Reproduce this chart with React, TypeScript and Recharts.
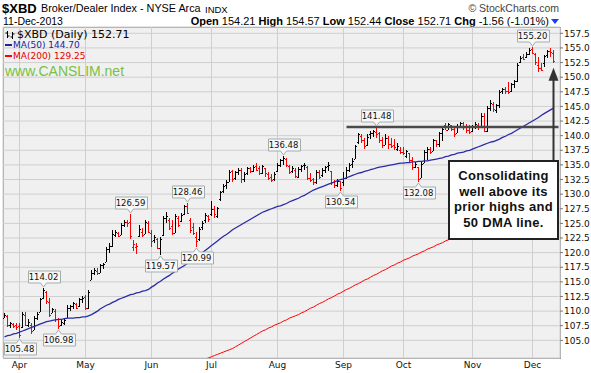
import React from 'react';
import { ComposedChart, Bar, Line, XAxis, YAxis, CartesianGrid, ReferenceDot, ReferenceLine } from 'recharts';

const ARIAL = '"Liberation Sans", Arial, sans-serif';
const VERDANA = '"DejaVu Sans", Verdana, sans-serif';

type Ohlc = [number, number, number, number];

// trading days per month (2013)
const marDays = [22, 25, 26, 27, 28];
const aprDays = [1, 2, 3, 4, 5, 8, 9, 10, 11, 12, 15, 16, 17, 18, 19, 22, 23, 24, 25, 26, 29, 30];
const mayDays = [1, 2, 3, 6, 7, 8, 9, 10, 13, 14, 15, 16, 17, 20, 21, 22, 23, 24, 28, 29, 30, 31];
const junDays = [3, 4, 5, 6, 7, 10, 11, 12, 13, 14, 17, 18, 19, 20, 21, 24, 25, 26, 27, 28];
const julDays = [1, 2, 3, 5, 8, 9, 10, 11, 12, 15, 16, 17, 18, 19, 22, 23, 24, 25, 26, 29, 30, 31];
const augDays = [1, 2, 5, 6, 7, 8, 9, 12, 13, 14, 15, 16, 19, 20, 21, 22, 23, 26, 27, 28, 29, 30];
const sepDays = [3, 4, 5, 6, 9, 10, 11, 12, 13, 16, 17, 18, 19, 20, 23, 24, 25, 26, 27, 30];
const octDays = [1, 2, 3, 4, 7, 8, 9, 10, 11, 14, 15, 16, 17, 18, 21, 22, 23, 24, 25, 28, 29, 30, 31];
const novDays = [1, 4, 5, 6, 7, 8, 11, 12, 13, 14, 15, 18, 19, 20, 21, 22, 25, 26, 27, 29];
const decDays = [2, 3, 4, 5, 6, 9, 10, 11];

// [open, high, low, close]
const marBars: Ohlc[] = [
  [108.9, 109.6, 108.8, 109.4], [109.2, 109.3, 107.2, 107.6], [107.6, 108.1, 107.1, 107.9], [107.8, 108.0, 107.1, 107.5],
  [107.6, 108.0, 106.8, 107.2],
];
const aprBars: Ohlc[] = [
  [107.4, 108.0, 105.48, 105.9], [107.3, 109.8, 107.1, 109.5], [109.4, 109.8, 107.4, 107.6], [107.6, 108.6, 107.3, 108.2],
  [107.6, 108.0, 106.0, 106.6], [106.8, 109.2, 106.8, 108.9], [108.9, 109.8, 108.4, 109.5], [109.8, 112.3, 109.8, 112.0],
  [112.2, 114.02, 112.0, 113.6], [113.2, 113.4, 111.2, 111.8], [111.6, 112.3, 109.0, 109.3], [109.6, 110.6, 109.6, 110.4],
  [110.0, 110.4, 108.2, 108.6], [108.6, 108.8, 106.98, 107.4], [107.6, 108.4, 107.4, 108.2], [108.0, 108.6, 107.6, 108.4],
  [108.8, 111.0, 108.8, 110.6], [110.6, 111.0, 110.0, 110.8], [110.8, 111.6, 110.4, 111.3], [111.2, 111.3, 110.3, 110.6],
  [110.8, 112.2, 110.7, 112.0], [112.0, 112.6, 111.4, 112.3],
];
const mayBars: Ohlc[] = [
  [112.4, 112.7, 110.2, 110.5], [110.6, 113.6, 110.4, 113.3], [115.4, 117.0, 115.3, 116.6], [116.5, 117.4, 116.2, 117.0],
  [116.9, 117.3, 116.2, 116.5], [116.6, 118.0, 116.6, 117.8], [117.8, 118.3, 117.2, 118.0], [118.4, 121.0, 118.4, 120.6],
  [120.6, 121.6, 120.0, 121.2], [121.2, 123.9, 121.0, 123.2], [123.0, 123.8, 122.7, 123.6], [123.4, 123.5, 122.6, 122.9],
  [123.0, 125.0, 123.0, 124.8], [124.8, 125.6, 124.4, 125.3], [125.3, 125.5, 124.4, 125.0], [125.2, 126.59, 122.4, 122.8],
  [121.0, 122.2, 120.2, 121.5], [121.0, 121.6, 119.8, 121.2], [122.8, 124.8, 122.6, 124.0], [123.6, 124.2, 122.6, 123.0],
  [123.2, 125.6, 123.2, 125.2], [125.0, 125.4, 123.4, 123.6],
];
const junBars: Ohlc[] = [
  [123.4, 123.9, 120.9, 122.0], [122.2, 123.0, 121.6, 122.6], [122.4, 122.5, 120.6, 120.8], [120.8, 122.6, 119.57, 122.3],
  [123.0, 126.2, 122.8, 126.0], [126.0, 126.9, 125.0, 126.2], [125.6, 125.9, 123.8, 124.2], [124.6, 125.6, 123.0, 123.4],
  [123.4, 126.6, 123.3, 126.3], [126.0, 126.2, 124.4, 124.8], [125.4, 126.8, 125.2, 126.5], [126.6, 128.2, 126.4, 128.0],
  [128.0, 128.46, 126.6, 126.8], [125.6, 125.9, 123.4, 123.8], [124.4, 125.0, 123.0, 123.4], [122.6, 123.6, 120.99, 122.0],
  [122.4, 124.4, 122.0, 124.0], [124.4, 125.4, 123.8, 125.1], [125.6, 126.8, 125.0, 126.4], [126.2, 126.4, 125.3, 125.7],
];
const julBars: Ohlc[] = [
  [126.6, 128.9, 126.2, 127.4], [127.4, 128.0, 126.0, 126.6], [126.2, 127.8, 126.0, 127.6], [129.2, 130.6, 128.8, 130.3],
  [130.6, 131.8, 130.2, 131.4], [131.6, 132.4, 130.8, 132.0], [132.0, 134.2, 132.0, 133.8], [134.0, 134.2, 132.0, 132.6],
  [132.8, 134.0, 132.4, 133.8], [133.8, 134.4, 133.2, 134.2], [134.2, 134.4, 131.9, 132.6], [132.6, 133.8, 132.0, 133.4],
  [133.6, 134.6, 133.2, 134.4], [134.4, 134.6, 133.6, 134.0], [134.0, 135.0, 133.8, 134.7], [134.8, 135.3, 134.0, 134.2],
  [134.4, 134.8, 133.2, 133.6], [133.6, 135.0, 133.5, 134.8], [134.4, 134.5, 132.9, 133.6], [133.4, 133.8, 132.4, 132.8],
  [133.0, 133.4, 132.0, 132.5], [132.6, 133.8, 132.2, 133.4],
];
const augBars: Ohlc[] = [
  [134.0, 135.3, 133.8, 135.0], [135.0, 136.0, 134.6, 135.8], [135.8, 136.48, 135.0, 136.2], [136.0, 136.2, 134.6, 135.0],
  [134.8, 135.0, 133.4, 133.8], [134.0, 134.8, 133.6, 134.4], [134.2, 134.4, 132.7, 133.1], [133.0, 134.6, 132.8, 134.3],
  [134.3, 135.0, 133.8, 134.8], [134.9, 135.4, 134.2, 135.0], [134.6, 134.8, 132.4, 132.8], [132.8, 133.6, 132.0, 132.4],
  [132.6, 132.8, 131.6, 132.0], [132.0, 134.2, 131.8, 133.8], [133.8, 134.2, 132.6, 133.0], [133.2, 134.4, 133.0, 134.2],
  [134.2, 134.8, 133.6, 134.6], [134.8, 135.5, 134.0, 134.9], [134.0, 134.0, 131.6, 132.0], [132.0, 132.4, 131.0, 131.5],
  [131.6, 132.6, 131.2, 132.2], [132.2, 132.3, 130.54, 131.0],
];
const sepBars: Ohlc[] = [
  [132.0, 133.8, 131.4, 132.8], [132.8, 134.6, 132.6, 134.2], [134.2, 135.4, 133.8, 135.0], [135.2, 136.2, 134.4, 135.6],
  [136.0, 138.4, 136.0, 138.2], [139.0, 140.4, 138.6, 140.2], [140.0, 140.3, 138.7, 139.2], [139.2, 139.6, 137.8, 138.2],
  [138.4, 140.2, 138.2, 139.8], [140.2, 140.8, 139.4, 140.4], [140.4, 141.0, 139.8, 140.8], [140.6, 141.48, 139.6, 140.2],
  [140.4, 140.6, 138.8, 139.2], [139.2, 139.8, 137.9, 138.4], [138.4, 140.2, 138.4, 139.6], [139.6, 140.0, 137.8, 138.6],
  [138.6, 139.6, 137.9, 138.3], [138.4, 139.4, 137.6, 138.0], [137.8, 138.7, 137.4, 138.2], [137.6, 138.0, 136.8, 137.2],
];
const octBars: Ohlc[] = [
  [137.2, 138.1, 136.7, 137.0], [136.6, 137.5, 136.1, 137.3], [137.0, 137.1, 135.3, 135.8], [135.8, 136.3, 134.2, 134.6],
  [134.6, 135.5, 134.4, 135.2], [134.6, 134.6, 132.08, 132.6], [132.8, 135.5, 132.7, 135.2], [135.4, 137.5, 135.3, 137.2],
  [137.2, 138.1, 135.9, 137.8], [137.8, 138.1, 136.8, 137.2], [137.4, 139.5, 137.4, 139.2], [139.2, 139.2, 138.0, 138.6],
  [138.6, 140.6, 138.0, 140.4], [140.4, 141.4, 139.1, 141.2], [141.8, 142.1, 140.9, 141.0], [141.0, 142.2, 140.9, 142.0],
  [141.8, 141.9, 140.8, 141.2], [141.2, 141.5, 139.8, 140.2], [140.4, 142.0, 140.4, 141.6], [141.6, 142.4, 141.5, 142.2],
  [142.2, 142.3, 141.0, 141.5], [141.4, 142.0, 140.4, 141.0], [141.0, 141.8, 140.2, 140.6],
];
const novBars: Ohlc[] = [
  [140.8, 141.8, 140.6, 141.4], [141.4, 142.3, 141.2, 142.0], [141.8, 142.1, 141.0, 141.5], [141.6, 143.8, 141.6, 143.4],
  [143.4, 143.8, 140.6, 140.8], [140.8, 145.0, 140.6, 144.8], [144.8, 146.1, 144.2, 145.6], [145.4, 145.7, 144.0, 144.6],
  [144.4, 145.4, 143.8, 145.2], [145.2, 147.8, 144.8, 147.5], [147.6, 148.2, 147.2, 148.0], [148.0, 148.4, 147.2, 147.6],
  [147.6, 149.2, 147.2, 147.4], [147.6, 149.0, 147.4, 148.8], [148.8, 149.6, 148.2, 149.4], [149.4, 152.4, 149.2, 152.0],
  [152.6, 153.6, 152.4, 153.2], [153.4, 154.0, 153.0, 153.1], [153.4, 154.3, 153.3, 154.0], [154.0, 155.0, 153.8, 154.6],
];
const decBars: Ohlc[] = [
  [154.8, 155.2, 154.0, 154.2], [154.0, 154.2, 152.0, 152.6], [152.0, 153.4, 150.9, 151.5], [151.6, 152.4, 151.1, 151.3],
  [152.4, 153.8, 151.8, 153.6], [153.8, 154.6, 153.2, 154.4], [154.4, 155.0, 153.4, 154.27], [154.21, 154.57, 152.44, 152.71],
];

// 50-day moving average
const ma50Mar = [105.6, 105.8, 105.9, 106.1, 106.2];
const ma50Apr = [106.4, 106.6, 106.8, 107.0, 107.2, 107.4, 107.6, 107.8, 108.0, 108.2, 108.3, 108.4, 108.5, 108.6, 108.6, 108.7, 108.8, 108.8, 108.8, 108.9, 108.9, 109.0];
const ma50May = [109.0, 109.2, 109.4, 109.7, 110.0, 110.4, 110.7, 111.0, 111.2, 111.5, 111.7, 112.0, 112.2, 112.4, 112.6, 112.8, 112.9, 113.1, 113.2, 113.4, 113.5, 113.7];
const ma50Jun = [114.1, 114.4, 114.8, 115.1, 115.5, 115.8, 116.1, 116.5, 116.8, 117.2, 117.5, 117.8, 118.2, 118.5, 118.9, 119.2, 119.6, 120.0, 120.4, 120.8];
const ma50Jul = [121.2, 121.6, 122.0, 122.4, 122.8, 123.1, 123.5, 123.9, 124.2, 124.5, 124.8, 125.1, 125.4, 125.7, 126.0, 126.3, 126.6, 126.9, 127.1, 127.3, 127.5, 127.7];
const ma50Aug = [127.9, 128.0, 128.2, 128.4, 128.7, 128.9, 129.1, 129.3, 129.6, 129.8, 130.1, 130.4, 130.7, 130.9, 131.1, 131.3, 131.5, 131.7, 131.9, 132.1, 132.3, 132.5];
const ma50Sep = [132.6, 132.8, 133.0, 133.2, 133.4, 133.6, 133.7, 133.9, 134.0, 134.2, 134.3, 134.5, 134.6, 134.7, 134.8, 134.9, 135.0, 135.1, 135.2, 135.3];
const ma50Oct = [135.3, 135.4, 135.4, 135.5, 135.5, 135.6, 135.6, 135.7, 135.7, 135.8, 135.9, 136.0, 136.1, 136.2, 136.4, 136.5, 136.7, 136.8, 137.0, 137.1, 137.2, 137.4, 137.5];
const ma50Nov = [137.7, 137.9, 138.1, 138.3, 138.5, 138.7, 138.9, 139.0, 139.2, 139.4, 139.7, 139.9, 140.2, 140.4, 140.7, 141.0, 141.3, 141.6, 141.9, 142.2];
const ma50Dec = [142.5, 142.8, 143.1, 143.5, 143.8, 144.1, 144.4, 144.7];

// 200-day moving average (below the chart before June)
const ma200Jun = [97.9, 98.1, 98.3, 98.5, 98.7, 98.9, 99.2, 99.4, 99.6, 99.8, 100.0, 100.2, 100.4, 100.7, 100.9, 101.1, 101.3, 101.5, 101.8, 102.0];
const ma200Jul = [102.2, 102.4, 102.6, 102.8, 103.0, 103.2, 103.4, 103.6, 103.9, 104.2, 104.5, 104.8, 105.1, 105.4, 105.7, 106.0, 106.3, 106.6, 106.8, 107.1, 107.3, 107.6];
const ma200Aug = [107.8, 108.0, 108.3, 108.5, 108.8, 109.0, 109.2, 109.4, 109.7, 109.9, 110.2, 110.5, 110.7, 111.0, 111.3, 111.5, 111.8, 112.1, 112.3, 112.6, 112.9, 113.1];
const ma200Sep = [113.4, 113.7, 113.9, 114.2, 114.5, 114.7, 115.0, 115.3, 115.5, 115.8, 116.1, 116.3, 116.6, 116.9, 117.1, 117.4, 117.7, 117.9, 118.2, 118.4];
const ma200Oct = [118.7, 118.9, 119.1, 119.4, 119.6, 119.8, 120.1, 120.3, 120.6, 120.8, 121.0, 121.3, 121.5, 121.7, 122.0, 122.2, 122.5, 122.7, 122.9, 123.1, 123.4, 123.6, 123.8];
const ma200Nov = [124.0, 124.2, 124.4, 124.6, 124.8, 125.0, 125.2, 125.4, 125.6, 125.8, 126.0, 126.2, 126.4, 126.6, 126.8, 127.0, 127.2, 127.4, 127.6, 127.8];
const ma200Dec = [128.0, 128.2, 128.4, 128.6, 128.7, 128.9, 129.1, 129.25];

const yTicks = [105, 107.5, 110, 112.5, 115, 117.5, 120, 122.5, 125, 127.5, 130, 132.5, 135, 137.5, 140, 142.5, 145, 147.5, 150, 152.5, 155, 157.5];
const monthStarts = ['2013-04-01', '2013-05-01', '2013-06-03', '2013-07-01', '2013-08-01', '2013-09-03', '2013-10-01', '2013-11-01', '2013-12-02'];
const monthLabels = ['Apr', 'May', 'Jun', 'Jul', 'Aug', 'Sep', 'Oct', 'Nov', 'Dec'];

const callouts = [
  { date: '2013-04-01', value: 105.48, below: true },
  { date: '2013-04-11', value: 114.02, below: false },
  { date: '2013-04-18', value: 106.98, below: true },
  { date: '2013-05-22', value: 126.59, below: false },
  { date: '2013-06-06', value: 119.57, below: true },
  { date: '2013-06-19', value: 128.46, below: false },
  { date: '2013-06-24', value: 120.99, below: true },
  { date: '2013-08-05', value: 136.48, below: false },
  { date: '2013-08-30', value: 130.54, below: true },
  { date: '2013-09-18', value: 141.48, below: false },
  { date: '2013-10-08', value: 132.08, below: true },
  { date: '2013-12-02', value: 155.2, below: false },
];

const monthDays: [string, number[]][] = [
  ['03', marDays], ['04', aprDays], ['05', mayDays], ['06', junDays], ['07', julDays],
  ['08', augDays], ['09', sepDays], ['10', octDays], ['11', novDays], ['12', decDays],
];
const dates = monthDays.flatMap(([m, days]) => days.map(d => `2013-${m}-${String(d).padStart(2, '0')}`));
const bars = [...marBars, ...aprBars, ...mayBars, ...junBars, ...julBars, ...augBars, ...sepBars, ...octBars, ...novBars, ...decBars];
const ma50 = [...ma50Mar, ...ma50Apr, ...ma50May, ...ma50Jun, ...ma50Jul, ...ma50Aug, ...ma50Sep, ...ma50Oct, ...ma50Nov, ...ma50Dec];
const ma200 = [...ma200Jun, ...ma200Jul, ...ma200Aug, ...ma200Sep, ...ma200Oct, ...ma200Nov, ...ma200Dec];
const ma200Start = dates.length - ma200.length;

const data = dates.map((date, i) => {
  const [open, high, low, close] = bars[i];
  const prev = i > 0 ? bars[i - 1][3] : open;
  return {
    date,
    range: [low, high],
    open,
    close,
    up: close >= prev,
    ma50: ma50[i],
    ma200: i >= ma200Start ? ma200[i - ma200Start] : null,
  };
});

const OhlcBar = (props: any) => {
  const { x, y, width, height, payload } = props;
  const top = Math.min(y, y + height);
  const bot = Math.max(y, y + height);
  const [low, high] = payload.range;
  const k = high > low ? (bot - top) / (high - low) : 0;
  const yOf = (v: number) => Math.round(top + (high - v) * k);
  const cx = Math.floor(x + width / 2);
  const t = Math.round(top);
  return (
    <g fill={payload.up ? '#000000' : '#ff0000'}>
      <rect x={cx} y={t} width={1} height={Math.max(1, Math.round(bot) - t)} />
      <rect x={cx - 1} y={yOf(payload.open)} width={1} height={1} />
      <rect x={cx + 1} y={yOf(payload.close)} width={1} height={1} />
    </g>
  );
};

const Callout = ({ cx, cy, text, below }: any) => {
  const w = 32, h = 12, p = 4;
  const l = Math.round(cx - w / 2) + 0.5;
  const r = l + w;
  const tip = below ? Math.round(cy) + 1 : Math.round(cy) - 1;
  let d: string;
  let ty: number;
  if (below) {
    const t = tip + p;
    d = `M${l},${t} H${cx - 3} L${cx},${tip} L${cx + 3},${t} H${r} V${t + h} H${l} Z`;
    ty = t + h / 2;
  } else {
    const b = tip - p;
    d = `M${l},${b - h} H${r} V${b} H${cx + 3} L${cx},${tip} L${cx - 3},${b} H${l} Z`;
    ty = b - h / 2;
  }
  return (
    <g>
      <path d={d} fill="#f7f7f7" stroke="#a3adad" strokeWidth={1} />
      <text x={cx} y={ty} textAnchor="middle" dominantBaseline="central" fontFamily={VERDANA} fontSize={8.5} fill="#111">
        {text}
      </text>
    </g>
  );
};

const abs = (left: number, top: number, extra: React.CSSProperties = {}): React.CSSProperties => ({
  position: 'absolute', left, top, lineHeight: 1, whiteSpace: 'nowrap', ...extra,
});

const App = () => {
  return (
    <div style={{ position: 'absolute', left: 0, top: 0, width: 591, height: 373, background: '#fff', overflow: 'hidden' }}>
      {/* plot background and frame */}
      <div style={{ position: 'absolute', left: 3, top: 27, width: 558, height: 332, boxSizing: 'border-box', background: '#f0f0f0', border: '1px solid #9a9a9a' }} />

      <span style={abs(2, 1.5, { fontFamily: ARIAL, fontSize: 13, fontWeight: 'bold' })}>$XBD</span>
      <span style={abs(41, 3.3, { fontFamily: ARIAL, fontSize: 10.8 })}>Broker/Dealer Index - NYSE Arca</span>
      <span style={abs(205, 4.5, { fontFamily: ARIAL, fontSize: 9.5 })}>INDX</span>
      <span style={abs(0, 2.6, { fontFamily: ARIAL, fontSize: 10.5, color: '#444', left: undefined, right: 32 })}>© StockCharts.com</span>
      <span style={abs(3, 16, { fontFamily: ARIAL, fontSize: 10.5 })}>11-Dec-2013</span>
      <span style={abs(0, 15.7, { fontFamily: ARIAL, fontSize: 11, left: undefined, right: 42 })}>
        <b>Open</b> 154.21 <b>High</b> 154.57 <b>Low</b> 152.44 <b>Close</b> 152.71 <b>Chg</b> -1.56 (-1.01%)
      </span>
      <svg style={{ position: 'absolute', left: 551, top: 19 }} width={8} height={6}>
        <path d="M0,0 H8 L4,5 Z" fill="#1a3cff" />
      </svg>

      <ComposedChart width={591} height={373} data={data} margin={{ top: 27, right: 0, left: 3, bottom: 0 }} style={{ position: 'absolute', left: 0, top: 0 }}>
        <CartesianGrid stroke="#cfcfcf" strokeWidth={1} />
        <XAxis
          dataKey="date"
          ticks={monthStarts}
          interval={0}
          tickFormatter={(v: string) => monthLabels[monthStarts.indexOf(v)] ?? ''}
          height={15}
          padding={{ left: 0, right: 5 }}
          axisLine={false}
          tickLine={false}
          tickSize={3}
          tickMargin={1}
          tick={{ fontSize: 9, fontFamily: VERDANA, fill: '#111' }}
        />
        <YAxis
          orientation="right"
          width={31}
          domain={[101.98, 158.58]}
          allowDataOverflow
          ticks={yTicks}
          interval={0}
          tickFormatter={(v: number) => v.toFixed(1)}
          axisLine={false}
          tickLine={{ stroke: '#777' }}
          tickSize={3}
          tickMargin={1}
          tick={{ fontSize: 9, fontFamily: VERDANA, fill: '#111' }}
        />
        <Line dataKey="ma200" stroke="#ff0000" strokeWidth={1} dot={false} isAnimationActive={false} connectNulls={false} />
        <Line dataKey="ma50" stroke="#2b2ba6" strokeWidth={1.3} dot={false} isAnimationActive={false} />
        <Bar dataKey="range" shape={(p: any) => <OhlcBar {...p} />} isAnimationActive={false} />
        <ReferenceLine
          segment={[{ x: dates[114], y: 141.48 }, { x: dates[dates.length - 1], y: 141.48 }]}
          shape={(p: any) => <line x1={p.x1} y1={p.y1} x2={Math.max(p.x1, p.x2) + 5} y2={p.y2} stroke="#4a4a4a" strokeWidth={2.5} />}
        />
        <ReferenceLine
          segment={[{ x: dates[dates.length - 1], y: 135.8 }, { x: dates[dates.length - 1], y: 151.6 }]}
          shape={(p: any) => {
            const top = Math.min(p.y1, p.y2);
            const bot = Math.max(p.y1, p.y2);
            const x = p.x1;
            return (
              <g>
                <line x1={x} y1={top + 10} x2={x} y2={bot} stroke="#333" strokeWidth={2} />
                <path d={`M${x},${top} L${x + 5},${top + 13} L${x - 5},${top + 13} Z`} fill="#333" />
              </g>
            );
          }}
        />
        {callouts.map(c => (
          <ReferenceDot
            key={c.date}
            x={c.date}
            y={c.value}
            r={1}
            shape={(p: any) => <Callout cx={p.cx} cy={p.cy} text={c.value.toFixed(2)} below={c.below} />}
          />
        ))}
      </ComposedChart>

      {/* legend */}
      <svg style={{ position: 'absolute', left: 5, top: 30 }} width={10} height={10}>
        <path d="M2.5,1 V8 M0.5,3 H2.5 M2.5,6 H4.5 M7.5,2 V9 M5.5,7 H7.5 M7.5,4 H9.5" stroke="#000" strokeWidth={1} fill="none" />
      </svg>
      <span style={abs(17, 29, { fontFamily: VERDANA, fontSize: 11 })}>$XBD (Daily) 152.71</span>
      <div style={{ position: 'absolute', left: 5, top: 44, width: 7, height: 2, background: '#22229a' }} />
      <span style={abs(13, 40.9, { fontFamily: VERDANA, fontSize: 9, color: '#22229a' })}>MA(50) 144.70</span>
      <div style={{ position: 'absolute', left: 5, top: 55, width: 7, height: 2, background: '#ff0000' }} />
      <span style={abs(13, 51.9, { fontFamily: VERDANA, fontSize: 9, color: '#e00000' })}>MA(200) 129.25</span>
      <span style={abs(5, 64.1, { fontFamily: ARIAL, fontSize: 14, color: '#78c142' })}>www.CANSLIM.net</span>

      {/* annotation */}
      <div style={{ position: 'absolute', left: 448, top: 160, width: 111, height: 80, boxSizing: 'border-box', border: '2px solid #222', background: '#fff', textAlign: 'center', fontFamily: ARIAL, fontSize: 13, fontWeight: 'bold', lineHeight: '15.7px', paddingTop: 6, letterSpacing: 0.3, color: '#111' }}>
        Consolidating<br />well above its<br />prior highs and<br />50 DMA line.
      </div>
    </div>
  );
};

export default App;
